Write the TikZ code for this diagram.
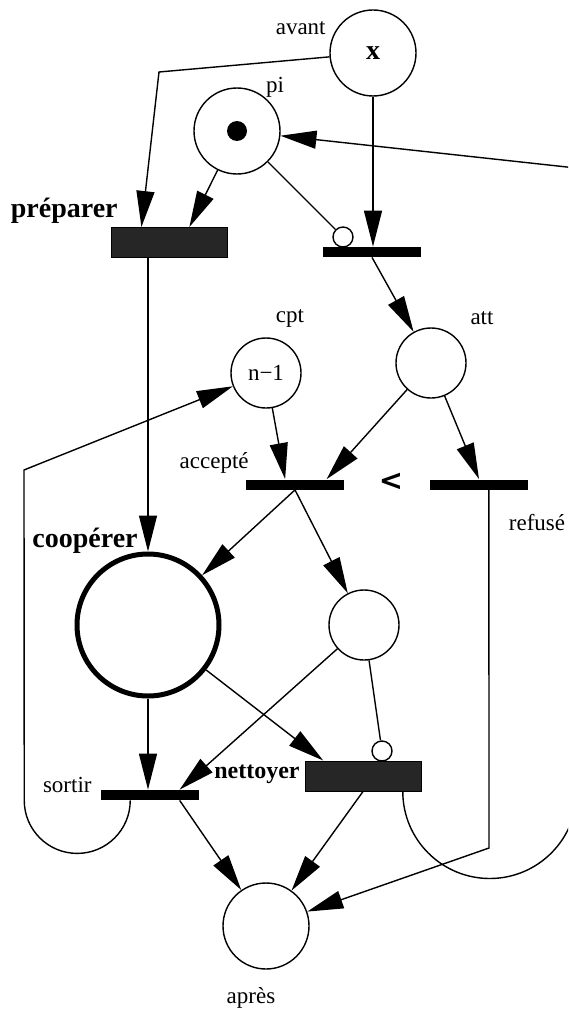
\documentclass[tikz,border=0pt]{standalone}
\usepackage{fontspec}
\setmainfont{Liberation Serif}
\newfontfamily\symfont{DejaVu Sans}
\usetikzlibrary{calc,arrows.meta}
\tikzset{
  place/.style={draw, circle, line width=.7pt, inner sep=0pt},
  tbar/.style={fill=black, minimum width=49pt, minimum height=5pt, inner sep=0pt},
  block/.style={draw=black, fill=black!85, line width=.5pt, minimum width=58pt, minimum height=15pt, inner sep=0pt},
  inhib/.style={draw, circle, fill=white, line width=.7pt, minimum size=10pt, inner sep=0pt},
  flow/.style={line width=.7pt, -{Triangle[length=18pt,width=9pt]}},
  lbl/.style={font=\fontsize{11.5}{13}\selectfont, inner sep=0pt},
  blbl/.style={font=\fontsize{14}{16}\selectfont\bfseries, inner sep=0pt}
}
\begin{document}
\begin{tikzpicture}[x=.5pt, y=-.5pt]
  \useasboundingbox (0,0) rectangle (568,1011);
  \clip (0,0) rectangle (568,1011);
  \node[place, minimum size=43pt] (avant) at (373,53) {\fontsize{14}{16}\selectfont\bfseries x};
  \node[place, minimum size=43pt] (pi) at (237,131) {};
  \node[circle, fill=black, minimum size=10pt, inner sep=0pt] (tok) at (pi) {};
  \node[place, minimum size=35pt] (cpt) at (266,373) {\fontsize{11.5}{13}\selectfont n−1};
  \node[place, minimum size=35pt] (att) at (431,363) {};
  \node[place, minimum size=71pt, line width=2.5pt] (coop) at (148,625) {};
  \node[place, minimum size=35pt] (pl) at (364,625) {};
  \node[place, minimum size=43pt] (apres) at (266,926) {};
  \node[block] (prep) at (169.5,242.5) {};
  \node[tbar] (dem) at (372,252) {};
  \node[tbar] (acc) at (295,484.5) {};
  \node[tbar] (ref) at (479,484.5) {};
  \node[tbar] (sort) at (150,795) {};
  \node[block] (nett) at (363,776) {};
  \node[inhib] (i1) at (343,237) {};
  \node[inhib] (i2) at (382,751) {};
  \node[lbl, anchor=east] (lavant) at (326,28) {avant};
  \node[lbl] (lpi) at (275,87) {pi};
  \node[blbl, anchor=east] (lprep) at (118,211) {préparer};
  \node[lbl] (lcpt) at (290,318) {cpt};
  \node[lbl] (latt) at (482,318) {att};
  \node[lbl, anchor=east] (lacc) at (249,463) {accepté};
  \node[blbl, font=\symfont\fontsize{14.5}{16}\selectfont\bfseries] (inf) at (391,482) {<};
  \node[lbl] (lref) at (537,523) {refusé};
  \node[blbl] (lcoop) at (85,541) {coopérer};
  \node[lbl, anchor=east] (lsort) at (92,785) {sortir};
  \node[blbl, font=\fontsize{12}{14}\selectfont\bfseries, anchor=east] (lnett) at (300,774) {nettoyer};
  \node[lbl] (lapres) at (251,998) {après};
  \coordinate (ca) at (159,72);
  \coordinate (cr) at (576,168);
  \coordinate (cl) at (24,470);
  \coordinate (cb) at (489,848);
  \draw[flow] (avant) -- (ca) -- ($(prep.north west)!.26!(prep.north east)$);
  \draw[flow] (pi) -- ($(prep.north west)!.67!(prep.north east)$);
  \draw[line width=.7pt] (pi) -- (i1);
  \draw[flow] (avant) -- (avant |- dem.north);
  \draw[flow] ($(nett.south west)!.84!(nett.south east)$) arc[start angle=180, end angle=360, radius=43.5pt] -- (cr) -- (pi);
  \draw[flow] (dem.south) -- (att);
  \draw[flow] (cpt) -- ($(acc.north west)!.4!(acc.north east)$);
  \draw[flow] (att) -- ($(acc.north west)!.82!(acc.north east)$);
  \draw[flow] (att) -- (ref.north);
  \draw[flow] (coop |- prep.south) -- (coop);
  \draw[flow] (acc.south) -- (coop);
  \draw[flow] (acc.south) -- (pl);
  \draw[flow] (coop) -- (coop |- sort.north);
  \draw[flow] (coop) -- ($(nett.north west)!.16!(nett.north east)$);
  \draw[flow] (pl) -- ($(sort.north west)!.8!(sort.north east)$);
  \draw[line width=.7pt] (pl) -- (i2);
  \draw[flow] ($(sort.south west)!.3!(sort.south east)$) arc[start angle=0, end angle=-180, radius=26.5pt] -- (cl) -- (cpt);
  \draw[flow] ($(sort.south west)!.8!(sort.south east)$) -- (apres);
  \draw[flow] (nett.south) -- (apres);
  \draw[flow] ($(ref.south west)!.6!(ref.south east)$) -- (cb) -- (apres);
\end{tikzpicture}
\end{document}
